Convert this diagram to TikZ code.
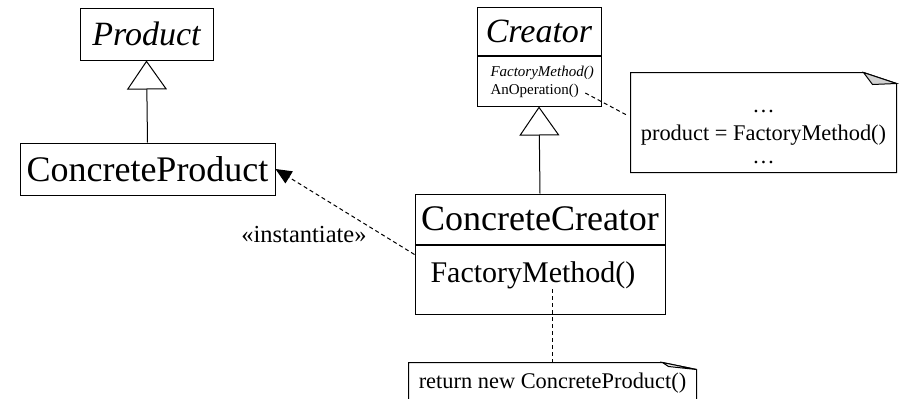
\documentclass[tikz,border=0pt]{standalone}
\usepackage{fontspec}
\setmainfont{Liberation Serif}
\usepackage{tikz}
\usetikzlibrary{arrows.meta, calc}

\newcommand{\umlsize}[1]{\fontsize{#1}{#1}\selectfont}

\tikzset{
    umlbox/.style={draw, rectangle, inner sep=0pt},
    umltext/.style={inner sep=0pt, anchor=west},
    notebox/.style={inner sep=0pt, align=center, font=\umlsize{22.4}},
    realizes/.style={-{Triangle[open, length=29pt, width=40pt]}},
    depline/.style={dash pattern=on 4pt off 3pt},
}

\begin{document}
\begin{tikzpicture}[x=1pt, y=-1pt, line width=1pt]
        \useasboundingbox (0, 0) rectangle (903, 399);
        \clip (0, 0) rectangle (903, 399);

        % product side
        \node[umlbox, minimum width=133pt, minimum height=52pt, font=\itshape\umlsize{34}] (prod) at (146.5, 34) {Product};
        \node[umlbox, minimum width=255pt, minimum height=52pt, font=\umlsize{36}] (cprod) at (147.5, 169) {ConcreteProduct};
        \draw[realizes] (cprod.north) -- (prod.south);

        % creator side
        \node[umlbox, minimum width=124pt, minimum height=48pt, font=\itshape\umlsize{34}] (crt) at (539, 31) {Creator};
        \node[umlbox, minimum width=124pt, minimum height=50pt, anchor=north] (crtops) at (crt.south) {};
        \node[umltext, font=\itshape\umlsize{15}] (facm) at (490, 73) {FactoryMethod()};
        \node[umltext, font=\umlsize{15}] (anop) at (490, 91) {AnOperation()};

        \node[umlbox, minimum width=250pt, minimum height=50pt, font=\umlsize{36}] (cc) at (540, 219) {ConcreteCreator};
        \node[umlbox, minimum width=250pt, minimum height=69pt, anchor=north] (ccops) at (cc.south) {};
        \node[umltext, font=\umlsize{30}] (ccfm) at (430, 275) {FactoryMethod()};
        \draw[realizes] (cc.north) -- (crtops.south);

        % instantiate dependency
        \draw[depline, -{Triangle[length=16pt, width=14pt]}] ($(ccops.north west)+(0, 10)$) -- (cprod.east);
        \node[font=\umlsize{24.5}] (inst) at (304, 235) {«instantiate»};

        % notes with folded corners
        \node[notebox, minimum width=265pt, minimum height=99pt] (note1) at (763.5, 122.5)
            {\rule{0pt}{31pt}…\\[6pt]product = FactoryMethod()\\…};
        \draw (note1.north west) -- ($(note1.north east)+(-33, 0)$) -- ($(note1.north east)+(0, 11)$)
            -- (note1.south east) -- (note1.south west) -- cycle;
        \filldraw[fill=gray!35] ($(note1.north east)+(-33, 0)$) -- ($(note1.north east)+(-24, 12)$)
            -- ($(note1.north east)+(0, 11)$) -- cycle;

        \node[notebox, minimum width=287pt, minimum height=40pt] (note2) at (552.5, 383) {return new ConcreteProduct()};
        \draw (note2.north west) -- ($(note2.north east)+(-34, 0)$) -- ($(note2.north east)+(0, 7)$)
            -- (note2.south east) -- (note2.south west) -- cycle;
        \filldraw[fill=gray!15] ($(note2.north east)+(-34, 0)$) -- ($(note2.north east)+(-28, 4)$)
            -- ($(note2.north east)+(0, 7)$) -- cycle;

        \draw[depline] ($(anop.east)+(6, 2)$) -- ($(note1.west)+(-2, -6.5)$);
        \draw[depline] (ccfm.south -| note2.north) -- (note2.north);
    \end{tikzpicture}
\end{document}
